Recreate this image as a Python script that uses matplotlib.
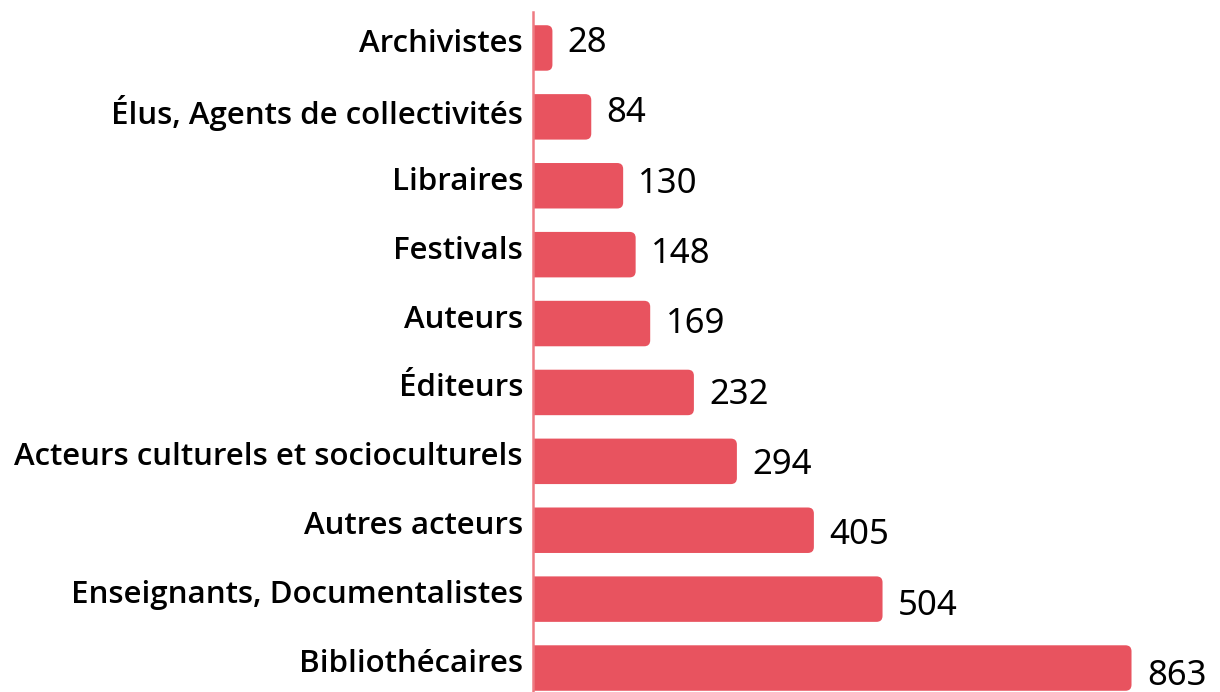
import numpy as np
import matplotlib.pyplot as plt
from matplotlib.patches import FancyBboxPatch
from matplotlib.transforms import offset_copy

categories = ["Archivistes", "Élus, Agents de collectivités", "Libraires", "Festivals",
              "Auteurs", "Éditeurs", "Acteurs culturels et socioculturels",
              "Autres acteurs", "Enseignants, Documentalistes", "Bibliothécaires"]
values = [28, 84, 130, 148, 169, 232, 294, 405, 504, 863]

bar_color = "#E8535F"
line_color = "#EE7A82"

fig = plt.figure(figsize=(12.2, 6.92), dpi=100)
ax = fig.add_axes([533 / 1220, 0, 1 - 533 / 1220 - 0.01, 1 - 12 / 692])

ypos = np.arange(len(values))
height = 0.66
xmax = 973
ax.set_xlim(0, xmax)
ax.set_ylim(9.348, -0.522)

# anisotropic rounding: px per unit in x and y
px_x = 0.694
px_y = 68.9
r_px = 6
for y, v in zip(ypos, values):
    patch = FancyBboxPatch((-20, y - height / 2), v + 20, height,
                           boxstyle=f"round,pad=0,rounding_size={r_px / px_x}",
                           mutation_aspect=(r_px / px_y) / (r_px / px_x),
                           facecolor=bar_color, edgecolor="none")
    ax.add_patch(patch)

# value labels, drifting slightly downward like the original
for i, (y, v) in enumerate(zip(ypos, values)):
    dy = -(-5 + 13 * i / 9) * 0.72
    tr = offset_copy(ax.transData, fig=fig, x=0, y=dy, units="points")
    ax.text(v + 22, y, str(v), transform=tr, va="center", ha="left",
            fontsize=25, family="Noto Sans", color="black", clip_on=False)

# category labels, a touch above bar centre
lab_tr = offset_copy(ax.get_yaxis_transform(), fig=fig, x=-10 * 0.72, y=4 * 0.72, units="points")
for y, c in zip(ypos, categories):
    ax.text(0, y, c, transform=lab_tr, ha="right", va="center",
            fontsize=22.5, family="Open Sans", fontweight="semibold", clip_on=False)

ax.set_yticks([])
ax.set_xticks([])
for s in ["top", "right", "bottom"]:
    ax.spines[s].set_visible(False)
ax.spines["left"].set_color(line_color)
ax.spines["left"].set_linewidth(1.8)
ax.spines["left"].set_zorder(5)

fig.savefig("out.png", dpi=100)
